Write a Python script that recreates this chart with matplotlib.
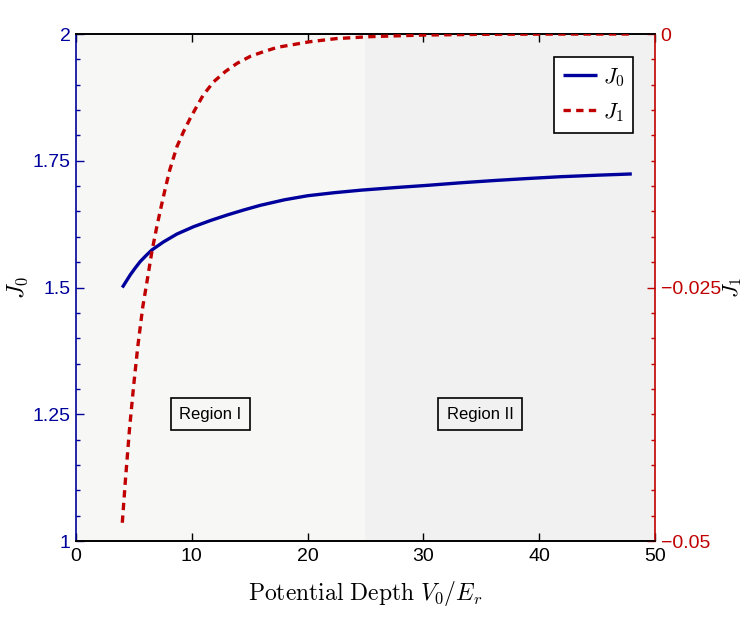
import matplotlib
matplotlib.use("Agg")
import matplotlib.pyplot as plt
from matplotlib.ticker import FixedLocator, FixedFormatter, MultipleLocator

plt.rcParams['mathtext.fontset'] = 'cm'
plt.rcParams['font.family'] = ['Liberation Sans', 'DejaVu Sans']

# ---- data ----
v0 = [4.0, 4.68, 5.1, 5.54, 6.05, 6.55, 7.56, 8.72, 10.16, 11.6, 13.05, 14.5, 15.9, 18, 20,
      22.3, 24.6, 27.5, 30.4, 33.2, 36.1, 39, 41.9, 45, 48]
j0 = [1.500, 1.5247, 1.538, 1.551, 1.563, 1.574, 1.590, 1.6055, 1.620, 1.632, 1.643, 1.653,
      1.662, 1.673, 1.681, 1.687, 1.692, 1.697, 1.7016, 1.7065, 1.711, 1.715, 1.7186,
      1.7215, 1.724]

v1 = [4.0, 4.27, 4.62, 4.97, 5.34, 5.77, 6.15, 6.55, 6.98, 7.4, 7.7, 8.1, 8.72, 9.3, 9.87,
      10.5, 11.0, 11.9, 12.9, 13.9, 15.06, 16.2, 17.4, 20.2, 22.5, 25.4, 30, 35, 40, 48]
j1 = [-0.0482, -0.0440, -0.0390, -0.0348, -0.0308, -0.0269, -0.0243, -0.0215, -0.0190,
      -0.0168, -0.0153, -0.0134, -0.0111, -0.0096, -0.0083, -0.0070, -0.0060, -0.0047,
      -0.0037, -0.0029, -0.0022, -0.00174, -0.00131, -0.00076, -0.00045, -0.00026,
      -0.0001, -0.00003, -0.00001, 0.0]

j0_ticks = [1, 1.25, 1.5, 1.75, 2]
j0_labels = ['1', '1.25', '1.5', '1.75', '2']
j1_ticks = [-0.05, -0.025, 0]
j1_labels = ['\u22120.05', '\u22120.025', '0']
x_ticks = [0, 10, 20, 30, 40, 50]

region_split = 25
regions = [("Region I", 11.6, 1.25), ("Region II", 34.9, 1.25)]

blue = '#00009c'
red = '#c00000'

fig = plt.figure(figsize=(7.47, 6.23), dpi=100)
ax = fig.add_axes([0.1017, 0.1316, 0.7751, 0.8138])
ax.set_facecolor('white')
ax.axvspan(0, region_split, color='#f7f7f5', zorder=0, lw=0)
ax.axvspan(region_split, 50, color='#f1f1f1', zorder=0, lw=0)

ax.plot(v0, j0, color=blue, lw=2.4, zorder=3, label=r'$J_0$', solid_capstyle='butt',
        solid_joinstyle='round')
ax.set_xlim(0, 50)
ax.set_ylim(1, 2)
ax.yaxis.set_major_locator(FixedLocator(j0_ticks))
ax.yaxis.set_major_formatter(FixedFormatter(j0_labels))
ax.yaxis.set_minor_locator(MultipleLocator(0.05))
ax.xaxis.set_major_locator(FixedLocator(x_ticks))

ax2 = ax.twinx()
ax2.plot(v1, j1, color=red, lw=2.4, ls=(0, (2.2, 1.6)), zorder=3, label=r'$J_1$')
ax2.set_ylim(-0.05, 0)
ax2.yaxis.set_major_locator(FixedLocator(j1_ticks))
ax2.yaxis.set_major_formatter(FixedFormatter(j1_labels))
ax2.yaxis.set_minor_locator(MultipleLocator(0.0025))

for a in (ax, ax2):
    for s in a.spines.values():
        s.set_linewidth(1.2)

ax.spines['left'].set_color(blue)
ax.spines['right'].set_visible(False)
ax2.spines['left'].set_visible(False)
ax2.spines['right'].set_color(red)
ax2.spines['top'].set_color('black')
ax2.spines['bottom'].set_color('black')

ax.tick_params(axis='x', which='both', direction='in', top=True, bottom=True,
               length=6, width=1, labelsize=14, colors='black', pad=5)
ax.tick_params(axis='y', which='major', direction='in', length=6, width=1,
               colors=blue, labelsize=14, pad=4)
ax.tick_params(axis='y', which='minor', direction='in', length=3, width=1, colors=blue)
ax2.tick_params(axis='y', which='major', direction='in', length=6, width=1,
                colors=red, labelsize=14, pad=4)
ax2.tick_params(axis='y', which='minor', direction='in', length=3, width=1, colors=red)

ax.set_xlabel(r'$\mathrm{Potential\ Depth}\ V_0/E_r$', fontsize=17, labelpad=10)
ax.set_ylabel(r'$J_0$', fontsize=17, labelpad=2)
ax2.set_ylabel(r'$J_1$', fontsize=16, labelpad=0, rotation=90)

for txt, xr, yr in regions:
    ax.text(xr, yr, txt, ha='center', va='center', fontsize=12, zorder=4,
            bbox=dict(boxstyle='square,pad=0.5', facecolor='none', edgecolor='black', lw=1.2))

h1, l1 = ax.get_legend_handles_labels()
h2, l2 = ax2.get_legend_handles_labels()
leg = ax2.legend(h1 + h2, l1 + l2, loc='upper right', bbox_to_anchor=(0.962, 0.954),
                 fontsize=16, frameon=True, fancybox=False, handlelength=1.55,
                 handletextpad=0.25, borderpad=0.4, labelspacing=0.55, borderaxespad=0)
leg.get_frame().set_edgecolor('black')
leg.get_frame().set_linewidth(1.2)
leg.get_frame().set_alpha(1)

fig.savefig('out.png', dpi=100, facecolor='white')
